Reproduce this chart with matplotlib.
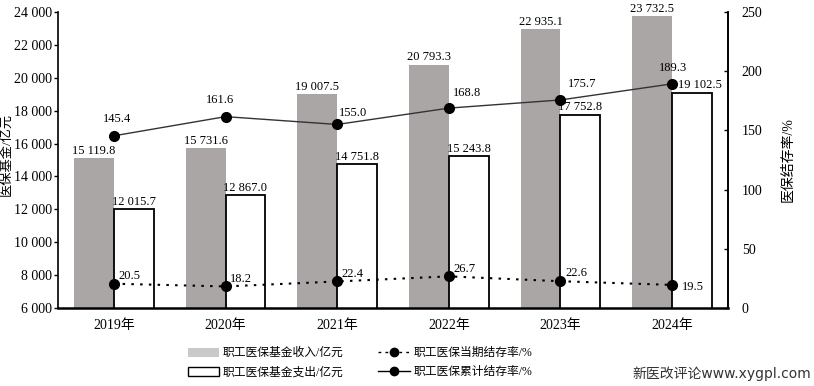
import matplotlib.pyplot as plt
from matplotlib.patches import Patch
from matplotlib.lines import Line2D

plt.rcParams['font.family'] = ['Liberation Serif', 'Noto Sans CJK SC', 'DejaVu Sans']

years = ["2019年", "2020年", "2021年", "2022年", "2023年", "2024年"]
income = [15119.8, 15731.6, 19007.5, 20793.3, 22935.1, 23732.5]
expense = [12015.7, 12867.0, 14751.8, 15243.8, 17752.8, 19102.5]
current_rate = [20.5, 18.2, 22.4, 26.7, 22.6, 19.5]
cumulative_rate = [145.4, 161.6, 155.0, 168.8, 175.7, 189.3]


def fmt(v):
    return f"{v:,.1f}".replace(",", " ")


fig = plt.figure(figsize=(8.14, 3.86), dpi=100)
ax = fig.add_axes([0.0713, 0.2021, 0.823, 0.7669])
x = list(range(len(years)))
w = 0.357

gray = "#aba6a6"
ax.bar([i - w for i in x], income, width=w, align="edge", color=gray, zorder=2)
ax.bar(x, expense, width=w, align="edge", color="white", edgecolor="black",
       linewidth=1.3, zorder=2)

for i in x:
    ax.text(i - w / 2, income[i] + 80, fmt(income[i]), ha="center", va="bottom", fontsize=9)
    dx = 0.07 if i == 5 else 0
    ax.text(i + w / 2 + dx, expense[i] + 80, fmt(expense[i]), ha="center", va="bottom", fontsize=9)

ax.set_xlim(-0.5, 5.5)
ax.set_ylim(6000, 24000)
ticks = list(range(6000, 24001, 2000))
ax.set_yticks(ticks)
ax.set_yticklabels([f"{t:,}".replace(",", " ") for t in ticks], fontsize=10)
ax.set_xticks(x)
ax.set_xticklabels(years, fontsize=10)
ax.tick_params(axis="x", length=0, pad=8)
ax.tick_params(axis="y", direction="out", length=3, width=1, pad=1)
ax.spines["top"].set_visible(False)
ax.spines["bottom"].set_linewidth(1.8)
ax.spines["left"].set_linewidth(1.2)
ax.spines["right"].set_linewidth(1.2)
ax.set_ylabel("医保基金/亿元", fontsize=9.5)
ax.yaxis.set_label_coords(-0.068, 0.52)

ax2 = ax.twinx()
ax2.set_ylim(0, 250)
ax2.set_yticks([0, 50, 100, 150, 200, 250])
ax2.tick_params(axis="y", direction="in", length=3, width=1, labelsize=10, pad=10)
ax2.spines["top"].set_visible(False)
ax2.spines["right"].set_linewidth(1.2)
ax2.spines["bottom"].set_visible(False)
ax2.spines["left"].set_visible(False)
ax2.set_ylabel("医保结存率/%", fontsize=10, labelpad=14)

ax2.plot(x, cumulative_rate, color="#333333", linewidth=1.0, marker="o",
         markersize=7, markerfacecolor="black", markeredgecolor="black", zorder=5)
ax2.plot(x, current_rate, color="black", linewidth=1.5, linestyle=(0, (1.2, 3)),
         marker="o", markersize=7, markerfacecolor="black", zorder=5)

cum_off = [(0.03, 9), (-0.05, 9), (0.14, 5), (0.16, 8), (0.19, 8), (0.01, 8)]
for i in x:
    ox, oy = cum_off[i]
    ax2.text(i + ox, cumulative_rate[i] + oy, fmt(cumulative_rate[i]), ha="center",
             va="bottom", fontsize=9)
for i in x:
    if i == 5:
        ax2.text(i + 0.09, current_rate[i] - 1.5, fmt(current_rate[i]), ha="left",
                 va="center", fontsize=9)
    else:
        ax2.text(i + 0.04, current_rate[i] + 1.5, fmt(current_rate[i]), ha="left",
                 va="bottom", fontsize=9)

handles = [
    Patch(facecolor="#c9c9c9", edgecolor="none"),
    Patch(facecolor="white", edgecolor="black", linewidth=1),
    Line2D([0], [0], color="black", linestyle=(0, (2, 3)), linewidth=1, marker="o",
           markersize=6),
    Line2D([0], [0], color="black", linewidth=1, marker="o", markersize=6),
]
labels = ["职工医保基金收入/亿元", "职工医保基金支出/亿元",
          "职工医保当期结存率/%", "职工医保累计结存率/%"]
fig.legend(handles, labels, loc="center", bbox_to_anchor=(0.442, 0.06), ncol=2,
           frameon=False, fontsize=8.5, handlelength=2.7, handleheight=0.8,
           columnspacing=3.0, handletextpad=0.25, labelspacing=0.6)

fig.text(0.997, 0.012, "新医改评论www.xygpl.com", ha="right", va="bottom", fontsize=10,
         color="#333333", family=["DejaVu Sans", "Noto Sans CJK SC"])

fig.savefig("out.png", dpi=100)
